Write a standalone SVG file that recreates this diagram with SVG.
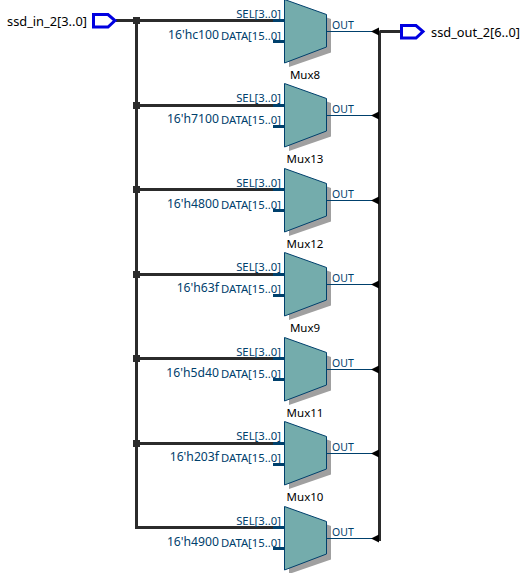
<svg xmlns="http://www.w3.org/2000/svg" width="526" height="573" viewBox="0 0 526 573">
<style>
text{font-family:"Noto Sans","Liberation Sans",sans-serif;font-size:11.5px;fill:#000}
.l{font-size:12.8px}
.p{font-size:11.3px;fill:#00406c}
.o{font-size:10.5px;fill:#00406c}
.c{font-size:12.2px;fill:#00406c}
.b{fill:none;stroke:#2b2b2b;stroke-width:3}
.t{fill:none;stroke:#00406c;stroke-width:1}
.s{fill:none;stroke:#00406c;stroke-width:3}
.body{fill:#74acac;stroke:#00406c;stroke-width:1}
.sh{fill:#a0a0a0}
.pin{fill:#fff;stroke:#0000e0;stroke-width:3}
</style>
<defs>
<g id="mux">
<path class="sh" d="M289 4L331 19V52.500L289 67Z"/>
<path class="body" d="M284.500 -0.500L326.500 14.500V47L284.500 63Z"/>
<path class="t" d="M327 31.500H372"/>
<path d="M371 31.500L379 27.500V35.500Z" fill="#000"/>
<text class="p" x="281" y="18" text-anchor="end">SEL[3..0]</text>
<text class="p" x="281" y="40" text-anchor="end">DATA[15..0]</text>
<text class="o" x="332" y="29">OUT</text>
</g>
</defs>
<g id="connectors">
<path class="b" d="M116 20.500H273M136.500 20.500V527.500H273M136.500 105.500H273M136.500 189.500H273M136.500 274.500H273M136.500 358.500H273M136.500 443.500H273"/>
<path class="s" d="M273 20.500H284M273 41.500H284M273 105.500H284M273 126.500H284M273 189.500H284M273 210.500H284M273 274.500H284M273 295.500H284M273 358.500H284M273 379.500H284M273 443.500H284M273 464.500H284M273 527.500H284M273 548.500H284"/>
<path class="b" d="M379.500 31V541M379.500 31.500H401"/>
<path fill="#2b2b2b" d="M133 17h7v7h-7zM133 102h7v7h-7zM133 186h7v7h-7zM133 271h7v7h-7zM133 355h7v7h-7zM133 440h7v7h-7z"/>
</g>
<g id="ssd_in_2"><path class="pin" d="M93.500 14.500H108L115 20.500L108 27H93.500Z"/><text class="l" x="7" y="26">ssd_in_2[3..0]</text></g>
<g id="ssd_out_2"><path class="pin" d="M401.500 25.500H416L423 31.500L416 38H401.500Z"/><text class="l" x="431" y="37">ssd_out_2[6..0]</text></g>
<g id="Mux8"><use href="#mux"/><text class="c" x="219" y="39" text-anchor="end">16'hc100</text><text x="305" y="79" text-anchor="middle">Mux8</text></g>
<g id="Mux13" transform="translate(0,84)"><use href="#mux"/><text class="c" x="219" y="39" text-anchor="end">16'h7100</text><text x="305" y="79" text-anchor="middle">Mux13</text></g>
<g id="Mux12" transform="translate(0,169)"><use href="#mux"/><text class="c" x="219" y="39" text-anchor="end">16'h4800</text><text x="305" y="79" text-anchor="middle">Mux12</text></g>
<g id="Mux9" transform="translate(0,253)"><use href="#mux"/><text class="c" x="219" y="39" text-anchor="end">16'h63f</text><text x="305" y="79" text-anchor="middle">Mux9</text></g>
<g id="Mux11" transform="translate(0,338)"><use href="#mux"/><text class="c" x="219" y="39" text-anchor="end">16'h5d40</text><text x="305" y="79" text-anchor="middle">Mux11</text></g>
<g id="Mux10" transform="translate(0,422)"><use href="#mux"/><text class="c" x="219" y="39" text-anchor="end">16'h203f</text><text x="305" y="79" text-anchor="middle">Mux10</text></g>
<g id="Mux14" transform="translate(0,507)"><use href="#mux"/><text class="c" x="219" y="39" text-anchor="end">16'h4900</text></g>
</svg>
